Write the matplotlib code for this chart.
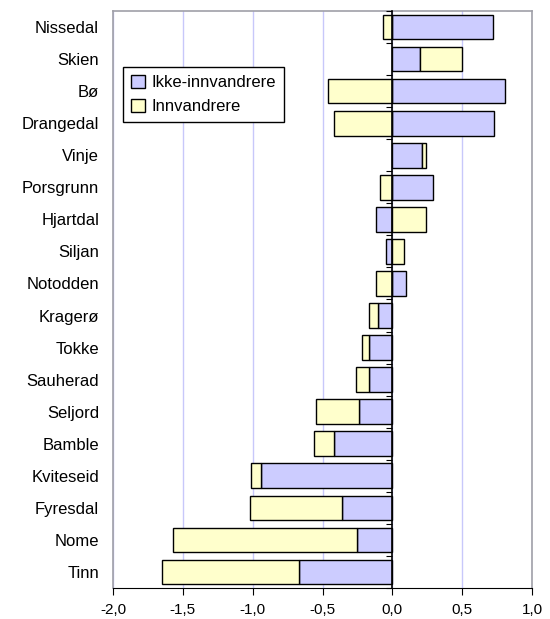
import numpy as np
import matplotlib
matplotlib.use("Agg")
import matplotlib.pyplot as plt
from matplotlib.ticker import FuncFormatter

plt.rcParams['font.family'] = ['Liberation Sans', 'DejaVu Sans']

kommuner = ['Nissedal', 'Skien', 'Bø', 'Drangedal', 'Vinje', 'Porsgrunn', 'Hjartdal',
            'Siljan', 'Notodden', 'Kragerø', 'Tokke', 'Sauherad', 'Seljord', 'Bamble',
            'Kviteseid', 'Fyresdal', 'Nome', 'Tinn']
ikke_innv = [0.72, 0.20, 0.81, 0.73, 0.21, 0.29, -0.12, -0.045, 0.10, -0.10,
             -0.17, -0.17, -0.24, -0.42, -0.94, -0.36, -0.25, -0.67]
innv = [-0.07, 0.30, -0.46, -0.42, 0.03, -0.09, 0.24, 0.08, -0.12, -0.065,
        -0.045, -0.09, -0.31, -0.14, -0.07, -0.66, -1.32, -0.98]

ikke_innv = np.array(ikke_innv)
innv = np.array(innv)
# Excel-style stacking: same sign stacks on top, opposite sign starts at 0
innv_left = np.where(np.sign(innv) == np.sign(ikke_innv), ikke_innv, 0.0)

y = np.arange(len(kommuner))[::-1]

fig = plt.figure(figsize=(5.5, 6.19), dpi=100)
ax = fig.add_axes([113 / 550, 31 / 619, 419 / 550, 577 / 619])

ax.barh(y, ikke_innv, height=0.77, color='#CCCCFF', edgecolor='black', linewidth=1.0,
        label='Ikke-innvandrere', zorder=3)
ax.barh(y, innv, left=innv_left, height=0.77, color='#FFFFCC', edgecolor='black',
        linewidth=1.0, label='Innvandrere', zorder=3)

ax.set_xlim(-2.0, 1.0)
ax.set_ylim(-0.5, len(kommuner) - 0.5)
ax.set_xticks(np.arange(-2.0, 1.01, 0.5))
ax.xaxis.set_major_formatter(FuncFormatter(lambda v, p: f"{v:.1f}".replace('.', ',')))
ax.grid(axis='x', color='#C8C8FA', linewidth=1.0, zorder=0)

ax.set_yticks(y)
ax.set_yticklabels(kommuner, fontsize=12)
ax.tick_params(axis='y', length=0, pad=10)
ax.tick_params(axis='x', direction='out', length=5, labelsize=11, color='black', pad=6)

for s in ['left', 'top', 'right']:
    ax.spines[s].set_color('#A0A0A8')
    ax.spines[s].set_linewidth(1.2)
ax.spines['bottom'].set_color('black')

# category axis crossing at zero
zero_ax = ax.secondary_yaxis(0, transform=ax.transData)
zero_ax.set_yticks(np.arange(-0.5, len(kommuner), 1.0))
zero_ax.set_yticklabels([])
zero_ax.tick_params(axis='y', length=4, direction='out', width=0.8)
zero_ax.spines['left'].set_color('black')
zero_ax.spines['left'].set_linewidth(1.2)
zero_ax.set_zorder(4)

leg = ax.legend(loc='upper left', bbox_to_anchor=(0.024, 0.903), borderaxespad=0,
                fancybox=False, edgecolor='black', framealpha=1, fontsize=12,
                handlelength=0.8, handleheight=0.8, handletextpad=0.4,
                borderpad=0.5, labelspacing=0.5)
leg.get_frame().set_linewidth(1.0)
leg.set_zorder(5)

fig.savefig('out.png', dpi=100)
